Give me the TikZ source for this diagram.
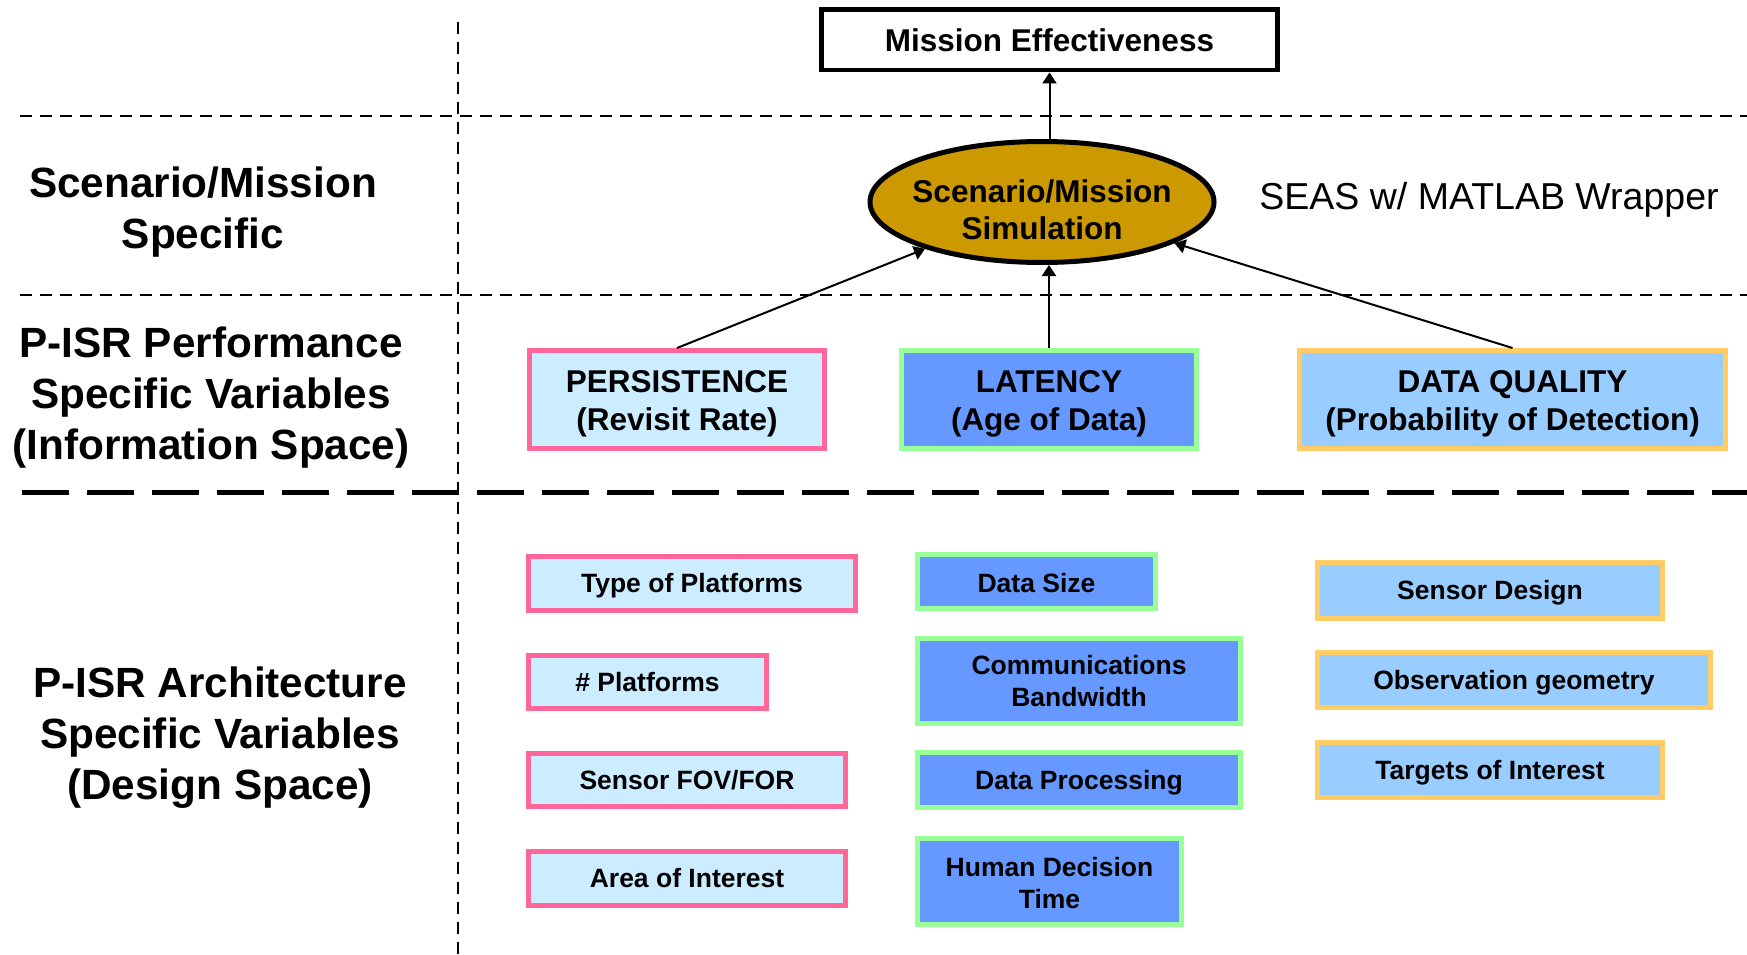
\documentclass[tikz,border=0pt]{standalone}
\usepackage{fontspec}
\setmainfont{Liberation Sans}
\usetikzlibrary{arrows.meta,shapes.geometric}
\definecolor{pinkb}{HTML}{FF6699}
\definecolor{lcyan}{HTML}{CCECFF}
\definecolor{greenb}{HTML}{99FF99}
\definecolor{midblue}{HTML}{6699FF}
\definecolor{orangeb}{HTML}{FFCC66}
\definecolor{skyblue}{HTML}{99CCFF}
\definecolor{gold}{HTML}{CC9900}
\newcommand{\lowtext}[2][3pt]{\raisebox{-#1}[\height][\depth]{\begin{tabular}{@{}c@{}}#2\end{tabular}}}
\tikzset{
  bx/.style={rectangle,inner sep=0pt,line width=5pt,align=center,
    font=\fontsize{26.5}{32}\selectfont\bfseries},
  bigbx/.style={bx,font=\fontsize{31.5}{38}\selectfont\bfseries},
  pinkbox/.style={bx,draw=pinkb,fill=lcyan},
  greenbox/.style={bx,draw=greenb,fill=midblue},
  orangebox/.style={bx,draw=orangeb,fill=skyblue},
  sidelabel/.style={align=center,inner sep=0pt,font=\fontsize{42.3}{51}\selectfont\bfseries},
  thindash/.style={line width=1.5pt,dash pattern=on 12pt off 8pt},
  thickdash/.style={line width=5pt,dash pattern=on 47pt off 18pt},
  arr/.style={line width=2pt,-{Triangle[length=11pt,width=14pt]}},
}
\begin{document}
\begin{tikzpicture}[x=1pt,y=-1pt]
\useasboundingbox (0,0) rectangle (1747,955);
% separators
\coordinate (h1a) at (20,116); \coordinate (h1b) at (1747,116);
\coordinate (h2a) at (20,295); \coordinate (h2b) at (1747,295);
\coordinate (h3a) at (22,492); \coordinate (h3b) at (1747,492);
\coordinate (va) at (458,22); \coordinate (vb) at (458,955);
\draw[thindash] (h1a) -- (h1b);
\draw[thindash] (h2a) -- (h2b);
\draw[thickdash] (h3a) -- (h3b);
\draw[thindash] (va) -- (vb);

% side labels
\node[sidelabel] (l1) at (203,212.5) {Scenario/Mission\\Specific};
\node[sidelabel] (l2) at (211,397.5) {P-ISR Performance\\Specific Variables\\(Information Space)};
\node[sidelabel] (l3) at (220,738) {P-ISR Architecture\\Specific Variables\\(Design Space)};

% top
\node[bigbx,draw=black,fill=white,line width=4.5pt,minimum width=456pt,minimum height=60.5pt] (me) at (1049.5,40) {Mission Effectiveness};
\node[ellipse,draw=black,fill=gold,line width=5pt,inner sep=0pt,minimum width=344pt,minimum height=121pt] (ell) at (1042,202) {};
\node[font=\fontsize{31.5}{37}\selectfont\bfseries,align=center,inner sep=0pt] (elltext) at ([yshift=-8pt]ell.center) {Scenario/Mission\\Simulation};
\node[font=\fontsize{37.5}{40}\selectfont,inner sep=0pt] (seas) at (1489,200) {SEAS w/ MATLAB Wrapper};

% performance variables
\node[bigbx,draw=pinkb,fill=lcyan,minimum width=295pt,minimum height=98pt] (pers) at (677,399.5) {\lowtext[4.5pt]{PERSISTENCE\\(Revisit Rate)}};
\node[bigbx,draw=greenb,fill=midblue,minimum width=295pt,minimum height=98pt] (lat) at (1049,399.5) {\lowtext[4.5pt]{LATENCY\\(Age of Data)}};
\node[bigbx,draw=orangeb,fill=skyblue,minimum width=426pt,minimum height=98pt] (dq) at (1512.5,399.5) {\lowtext[4.5pt]{DATA QUALITY\\(Probability of Detection)}};

% architecture variables
\node[pinkbox,minimum width=327pt,minimum height=54pt] (tp) at (692,583.5) {\lowtext{Type of Platforms}};
\node[pinkbox,minimum width=238pt,minimum height=53pt] (np) at (647.5,682) {\# Platforms};
\node[pinkbox,minimum width=317pt,minimum height=53pt] (fov) at (687,780) {Sensor FOV/FOR};
\node[pinkbox,minimum width=317pt,minimum height=54pt] (aoi) at (687,878.5) {Area of Interest};

\node[greenbox,minimum width=238pt,minimum height=54pt] (ds) at (1036.5,581.5) {\lowtext[4.5pt]{Data Size}};
\node[greenbox,minimum width=323pt,minimum height=85pt] (cb) at (1079,681) {Communications\\Bandwidth};
\node[greenbox,minimum width=323pt,minimum height=55pt] (dp) at (1079,780) {\lowtext{Data Processing}};
\node[greenbox,minimum width=264pt,minimum height=86pt] (hdt) at (1049.5,881.5) {\lowtext[4.3pt]{Human Decision\\Time}};

\node[orangebox,minimum width=345pt,minimum height=56pt] (sd) at (1490,590.5) {\lowtext{Sensor Design}};
\node[orangebox,minimum width=393pt,minimum height=55pt] (og) at (1514,680) {\lowtext{Observation geometry}};
\node[orangebox,minimum width=345pt,minimum height=55pt] (toi) at (1490,770) {\lowtext{Targets of Interest}};

% arrows
\draw[arr] (me.south |- ell.north) -- (me.south);
\draw[arr] (pers.north) -- (ell);
\draw[arr] (lat.north) -- (lat.north |- ell.south);
\draw[arr] (dq.north) -- (ell);
\end{tikzpicture}
\end{document}
